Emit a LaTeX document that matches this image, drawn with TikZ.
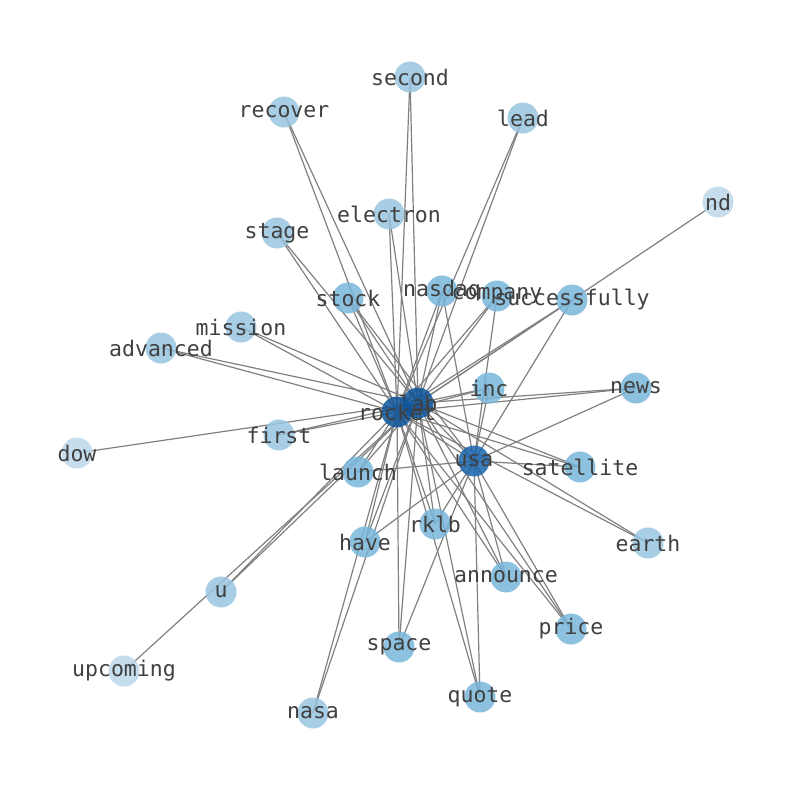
\documentclass[tikz,border=0pt]{standalone}
\usepackage{fontspec}
\usepackage{tikz}
\usetikzlibrary{backgrounds}
\newfontfamily\wordfont{DejaVu Sans Mono}
\definecolor{hubblue}{RGB}{14,85,155}
\definecolor{usablue}{RGB}{26,102,173}
\definecolor{midblue}{RGB}{120,182,219}
\definecolor{lowblue}{RGB}{153,197,225}
\definecolor{leafblue}{RGB}{188,215,235}
\definecolor{wordgray}{RGB}{64,64,64}
\definecolor{edgegray}{RGB}{128,128,128}

\begin{document}
\begin{tikzpicture}[
  x=1pt, y=-1pt,
  wnode/.style={circle, minimum size=31pt, inner sep=0pt, draw=none,
    fill opacity=0.85, text opacity=1,
    label={[wtext]center:#1}},
  wtext/.style={font=\wordfont\fontsize{21.5}{24}\selectfont, text=wordgray,
    inner sep=0pt},
  hub/.style={wnode=#1, fill=hubblue},
  hubusa/.style={wnode=#1, fill=usablue},
  mid/.style={wnode=#1, fill=midblue},
  low/.style={wnode=#1, fill=lowblue},
  leaf/.style={wnode=#1, fill=leafblue},
  wedge/.style={draw=edgegray, line width=1.2pt}
]
\useasboundingbox (0,0) rectangle (794,790);

% ---- Hubs ----
\node[hub=lab] (lab) at (418,403) {};
\node[hub=rocket] (rocket) at (397,412) {};
\node[hubusa=usa] (usa) at (474,461) {};

% ---- Words tied to usa as well ----
\node[mid=stock] (stock) at (348,298) {};
\node[mid=nasdaq] (nasdaq) at (442,291) {};
\node[mid=company] (company) at (497,296) {};
\node[mid=successfully] (successfully) at (572,300) {};
\node[mid=inc] (inc) at (489,388) {};
\node[mid=news] (news) at (636,388) {};
\node[mid=satellite] (satellite) at (580,467) {};
\node[mid=launch] (launch) at (358,472) {};
\node[mid=rklb] (rklb) at (435,524) {};
\node[mid=have] (have) at (365,542) {};
\node[mid=announce] (announce) at (506,577) {};
\node[mid=price] (price) at (571,629) {};
\node[mid=space] (space) at (399,647) {};
\node[mid=quote] (quote) at (480,697) {};

% ---- Words tied to rocket and lab only ----
\node[low=second] (second) at (410,77) {};
\node[low=recover] (recover) at (284,112) {};
\node[low=lead] (lead) at (523,118) {};
\node[low=electron] (electron) at (389,214) {};
\node[low=stage] (stage) at (277,233) {};
\node[low=mission] (mission) at (241,327) {};
\node[low=advanced] (advanced) at (161,348) {};
\node[low=first] (first) at (279,435) {};
\node[low=earth] (earth) at (648,543) {};
\node[low=u] (u) at (221,592) {};
\node[low=nasa] (nasa) at (313,713) {};

% ---- Leaves ----
\node[leaf=nd] (nd) at (718,202) {};
\node[leaf=dow] (dow) at (77,453) {};
\node[leaf=upcoming] (upcoming) at (124,671) {};

% ---- Edges ----
\begin{scope}[on background layer]
  \draw[wedge] (rocket.center) -- (lab.center);
  \draw[wedge] (rocket.center) -- (usa.center);
  \draw[wedge] (lab.center) -- (usa.center);
  \foreach \w in {stock,nasdaq,company,successfully,inc,news,satellite,
      launch,rklb,have,announce,price,space,quote} {
    \draw[wedge] (rocket.center) -- (\w.center);
    \draw[wedge] (lab.center) -- (\w.center);
    \draw[wedge] (usa.center) -- (\w.center);
  }
  \foreach \w in {second,recover,lead,electron,stage,mission,advanced,
      first,earth,u,nasa} {
    \draw[wedge] (rocket.center) -- (\w.center);
    \draw[wedge] (lab.center) -- (\w.center);
  }
  \foreach \w in {nd,dow,upcoming}
    \draw[wedge] (lab.center) -- (\w.center);
\end{scope}

\end{tikzpicture}
\end{document}
